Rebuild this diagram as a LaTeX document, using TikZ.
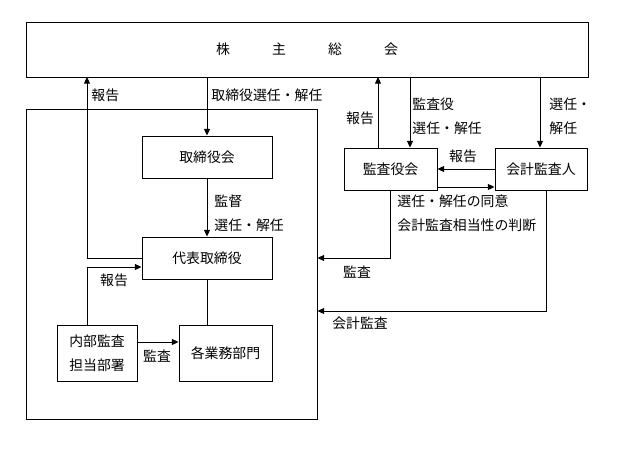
\documentclass[tikz,border=0pt]{standalone}
\usepackage{fontspec}
\setmainfont{Noto Sans CJK JP}
\usetikzlibrary{calc,positioning,arrows.meta}
\tikzset{>={Triangle[length=5pt,width=4.5pt]}}
\tikzset{box/.style 2 args={draw,minimum width=#1,minimum height=#2,inner sep=0pt},
  lbl/.style={inner sep=0pt}}
\newcommand*{\gap}{\hspace{31.6pt}}

\begin{document}
\begin{tikzpicture}[x=0.75pt,y=-0.75pt,line width=0.7pt,
  font=\fontsize{10.4}{18}\selectfont]
\useasboundingbox (0,0) rectangle (620,463);

% Boxes
\node[box={421.5pt}{41.25pt}] (soukai) at (307,49.5) {株\gap 主\gap 総\gap 会};
\node[box={218.25pt}{232.5pt}] (kaisha) at (171.5,264) {};
\node[box={97.5pt}{31.5pt}] (torikai) at (207,157) {取締役会};
\node[box={97.5pt}{31.5pt}] (daihyo) at (207,258) {代表取締役};
\node[box={60pt}{42pt},align=center] (naibu) at (97,353) {内部監査\\担当部署};
\node[box={69.75pt}{42pt}] (gyomu) at (225.5,353) {各業務部門};
\node[box={69.75pt}{31.5pt}] (kansa) at (390.5,169) {監査役会};
\node[box={69pt}{31.5pt}] (kaikei) at (541,169) {会計監査人};

% Coordinates of free line ends
\coordinate (hL) at (87,77);
\coordinate (hR) at (378,77);
\coordinate (sR) at (410,77);
\coordinate (kR) at (540,77);
\coordinate (kA) at (390,258);
\coordinate (kB) at (546,311);

% Inside the company
\draw[->] (daihyo.west) -| (hL);
\draw[->] (soukai.south -| torikai.north) -- (torikai.north);
\draw[->] (torikai) -- (daihyo);
\draw[->] (naibu.north -| hL) |- ($(daihyo.west)+(0,9)$);
\draw (daihyo.south) -- (daihyo.south |- gyomu.north);
\draw[->] ($(naibu.east)+(0,-11)$) -- ($(gyomu.west)+(0,-11)$);

% Auditors
\draw[->] (kansa.north -| hR) -- (hR);
\draw[->] (sR) -- (sR |- kansa.north);
\draw[->] (kR) -- (kR |- kaikei.north);
\draw[->] (kaikei) -- (kansa);
\draw[->] ($(kansa.east)+(0,18)$) -- ($(kaikei.west)+(0,18)$);
\draw[->] (kansa.south -| kA) |- (kaisha.east |- kA);
\draw[->] (kaikei.south -| kB) |- (kaisha.east |- kB);

% Labels
\node[lbl,anchor=west] (l1) at (91,95) {報告};
\node[lbl,anchor=west] (l2) at (211,95) {取締役選任・解任};
\node[lbl,anchor=west,align=left] (l3) at (214,213) {監督\\選任・解任};
\node[lbl] (l4) at (114,280) {報告};
\node[lbl] (l5) at (157,356) {監査};
\node[lbl] (l6) at (360,118) {報告};
\node[lbl,anchor=west,align=left] (l7) at (412,116) {監査役\\選任・解任};
\node[lbl,anchor=west,align=left] (l8) at (549,116) {選任・\\解任};
\node[lbl] (l9) at (463,156) {報告};
\node[lbl,anchor=west,align=left] (l10) at (397,213.5) {選任・解任の同意\\会計監査相当性の判断};
\node[lbl] (l11) at (357,272) {監査};
\node[lbl] (l12) at (360,323) {会計監査};
\end{tikzpicture}
\end{document}
